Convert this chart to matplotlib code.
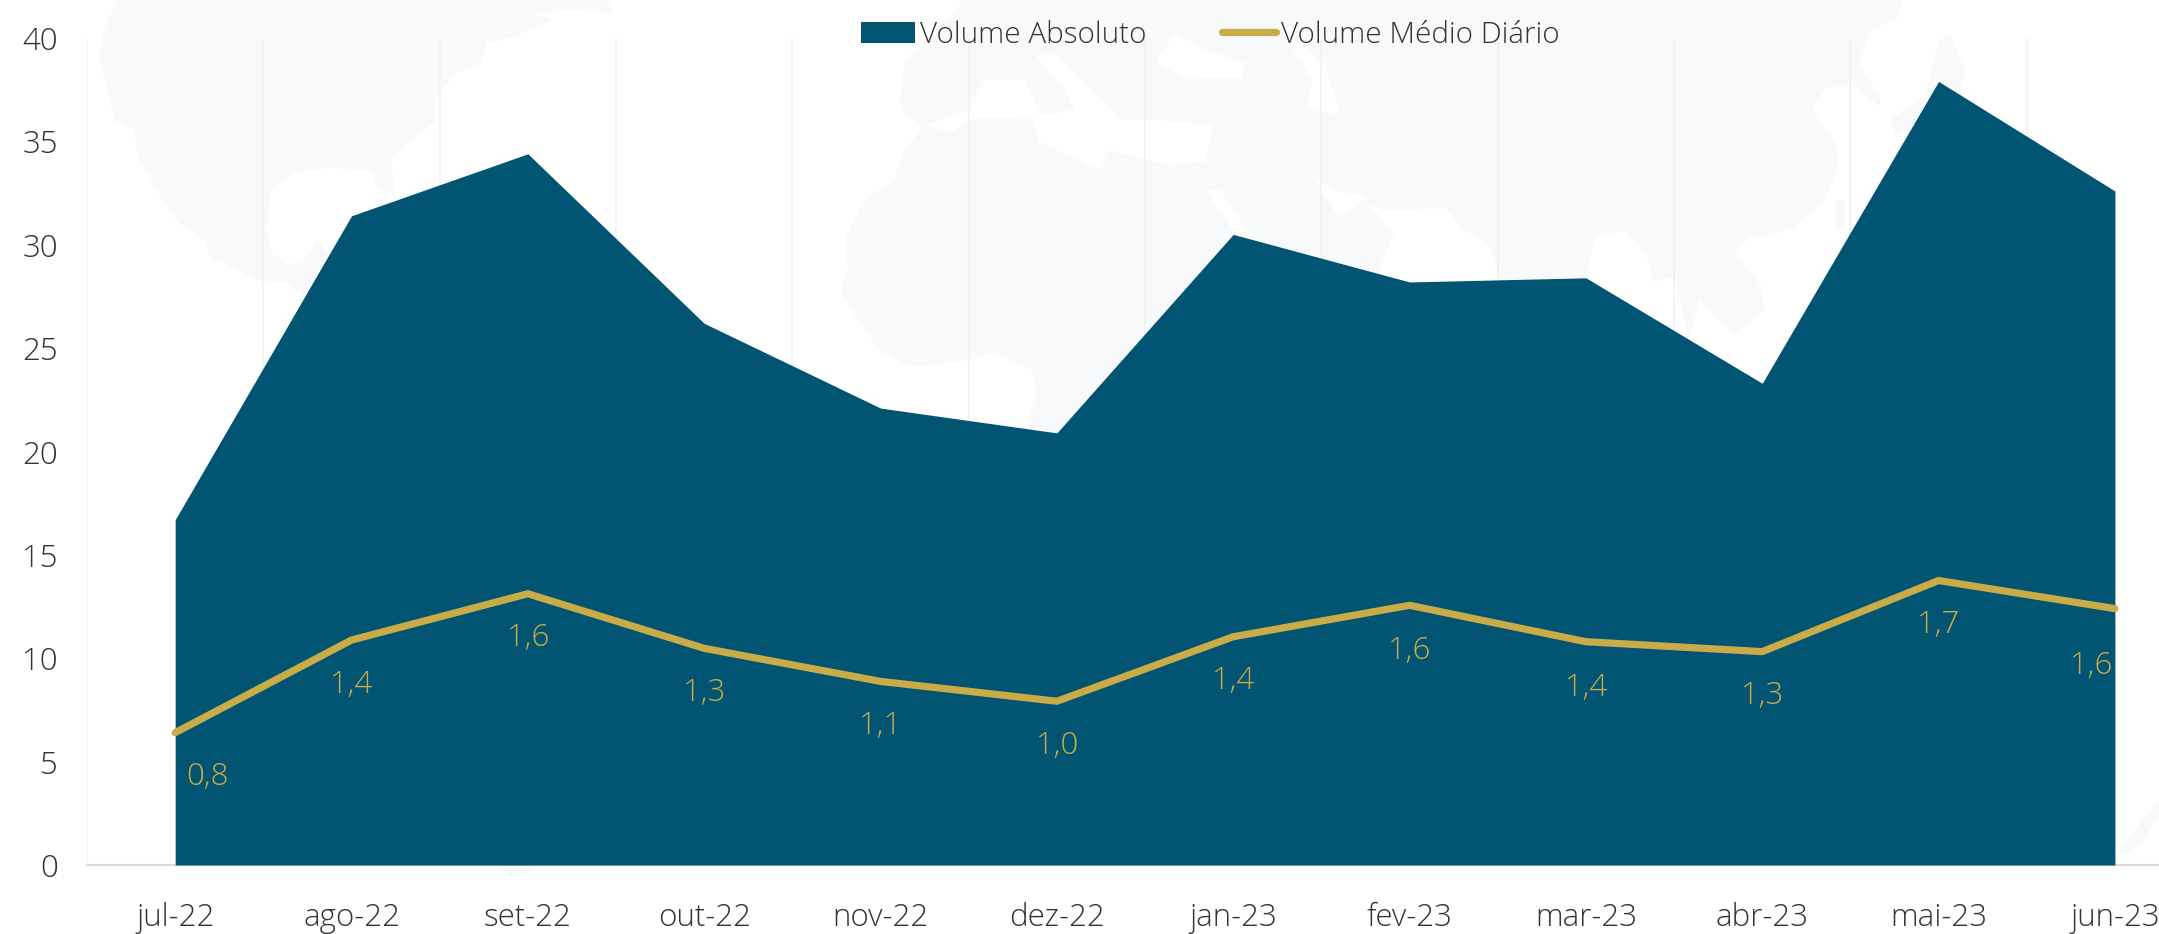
import matplotlib
matplotlib.use('Agg')
import matplotlib.pyplot as plt
from matplotlib.patches import Polygon

# months and both series
meses = ['jul-22', 'ago-22', 'set-22', 'out-22', 'nov-22', 'dez-22',
         'jan-23', 'fev-23', 'mar-23', 'abr-23', 'mai-23', 'jun-23']
volume_absoluto = [16.7, 31.4, 34.4, 26.2, 22.1, 20.9, 30.5, 28.2, 28.4, 23.3, 37.9, 32.6]
volume_medio = [0.80, 1.36, 1.64, 1.31, 1.11, 0.99, 1.38, 1.57, 1.35, 1.29, 1.72, 1.55]
y_ticks = [0, 5, 10, 15, 20, 25, 30, 35, 40]

W, H = 2159, 934
AZUL = '#015472'
OURO = '#c9ab47'
TEXTO = '#333333'
TERRA = '#f8f9fb'

# faint world map behind the chart, rough outlines in image pixels
terra = [
    [(117, 0), (105, 27), (99, 57), (107, 87), (114, 120), (134, 130), (138, 157), (161, 197), (179, 223),
     (205, 240), (210, 257), (263, 283), (286, 282), (304, 297), (335, 262), (317, 240), (304, 260), (290, 265),
     (272, 253), (266, 230), (272, 190), (295, 172), (330, 168), (371, 170), (379, 190), (395, 197), (391, 160),
     (402, 147), (435, 122), (435, 100), (455, 73), (482, 63), (487, 43), (513, 37), (553, 20), (531, 13),
     (571, 10), (612, 12), (607, 0)],
    [(924, 127), (904, 150), (894, 180), (863, 200), (845, 240), (848, 267), (840, 290), (858, 320), (879, 350),
     (909, 367), (970, 360), (991, 353), (1032, 370), (1037, 393), (1027, 420), (1060, 440), (1240, 300),
     (1241, 240), (1205, 190), (1205, 150), (1000, 110)],
    [(963, 0), (940, 30), (905, 60), (900, 100), (905, 115), (924, 127), (1000, 130), (1205, 160), (1205, 190),
     (1241, 240), (1300, 300), (1690, 350), (1690, 337), (1699, 300), (1721, 323), (1735, 335), (1764, 310),
     (1762, 287), (1735, 253), (1749, 237), (1767, 237), (1794, 227), (1825, 200), (1839, 167), (1835, 143),
     (1812, 110), (1826, 87), (1857, 87), (1880, 107), (1880, 97), (1859, 63), (1871, 30), (1898, 17), (1902, 0)],
    [(1939, 40), (1950, 35), (1965, 70), (1960, 100), (1915, 125), (1895, 135), (1890, 120), (1925, 95)],
    [(1836, 200), (1845, 200), (1845, 227), (1836, 227)],
    [(500, 866), (540, 866), (525, 875), (510, 875)],
    [(2117, 852), (2135, 830), (2159, 800), (2159, 815), (2140, 845), (2125, 855)],
]
mares = [
    [(927, 125), (950, 133), (975, 118), (1032, 117), (1039, 142), (1072, 157), (1098, 170), (1108, 150),
     (1169, 165), (1205, 162), (1213, 125), (1160, 120), (1123, 120), (1108, 107), (1088, 85), (1057, 55),
     (1035, 55), (1065, 90), (1075, 110), (1040, 115), (1025, 80), (985, 80), (970, 110)],
    [(1157, 63), (1174, 32), (1205, 50), (1246, 63), (1241, 78), (1185, 77)],
    [(1282, 30), (1297, 43), (1325, 63), (1340, 115), (1307, 107), (1312, 80)],
    [(1310, 173), (1333, 190), (1368, 197), (1338, 217)],
    [(1373, 285), (1394, 233), (1368, 205), (1385, 210), (1445, 208), (1465, 230), (1491, 247), (1500, 285)],
    [(1586, 277), (1595, 237), (1626, 230), (1649, 260), (1654, 282), (1674, 277), (1690, 345)],
    [(1205, 190), (1220, 190), (1250, 235), (1238, 238)],
]

# nudges for the value labels, in points
rotulo_dx = [23, 0, 0, 0, 0, 0, 0, 0, 0, 0, 0, -17]
rotulo_dy = [-32, -32, -32, -32, -32, -32, -32, -33, -33, -32, -32, -41]

plt.rcParams['font.family'] = ['Open Sans', 'DejaVu Sans']
plt.rcParams['font.weight'] = 'light'

fig = plt.figure(figsize=(W / 100, H / 100), dpi=100)

fundo = fig.add_axes([0, 0, 1, 1])
fundo.set_xlim(0, W)
fundo.set_ylim(H, 0)
fundo.axis('off')
for p in terra:
    fundo.add_patch(Polygon(p, closed=True, fc=TERRA, ec='none', zorder=1))
for p in mares:
    fundo.add_patch(Polygon(p, closed=True, fc='white', ec='none', zorder=2))

ax = fig.add_axes([87 / W, 1 - 865 / H, (W - 87) / W, (865 - 38) / H])
x = list(range(len(meses)))

ax.fill_between(x, volume_absoluto, 0, color=AZUL, lw=0, zorder=3, label='Volume Absoluto')
ax.set_xlim(-0.5, 11.25)
ax.set_ylim(0, 40)
ax.set_xticks(x, meses)
ax.set_yticks(y_ticks)
ax.tick_params(length=0, labelsize=22.5, labelcolor=TEXTO)
ax.tick_params(axis='x', pad=27)
ax.tick_params(axis='y', pad=21)
for s in ['top', 'right', 'left']:
    ax.spines[s].set_visible(False)
ax.spines['bottom'].set_color('#d9d9d9')
ax.spines['bottom'].set_linewidth(1.5)
ax.patch.set_alpha(0)

# vertical gridlines sit on the band edges
for i in range(12):
    ax.axvline(i - 0.5, color='#f0f1f2', lw=1.2, zorder=1)

ax2 = ax.twinx()
ax2.set_ylim(0, 5)
ax2.axis('off')
ax2.plot(x, volume_medio, color=OURO, lw=5.2, solid_capstyle='round', solid_joinstyle='miter',
         clip_on=False, zorder=5, label='Volume Médio Diário')
for i, v in zip(x, volume_medio):
    ax2.annotate(f'{v:.1f}'.replace('.', ','), (i, v), xytext=(rotulo_dx[i], rotulo_dy[i]),
                 textcoords='offset points', ha='center', va='center', fontsize=22.5, color=OURO)

h1, l1 = ax.get_legend_handles_labels()
h2, l2 = ax2.get_legend_handles_labels()
fig.legend(h1 + h2, l1 + l2, ncol=2, loc='center', bbox_to_anchor=(1210 / W, 1 - 35 / H),
           frameon=False, fontsize=21.3, labelcolor=TEXTO, handlelength=1.85, handletextpad=0.15,
           columnspacing=2.55)

fig.savefig('out.png', dpi=100)
